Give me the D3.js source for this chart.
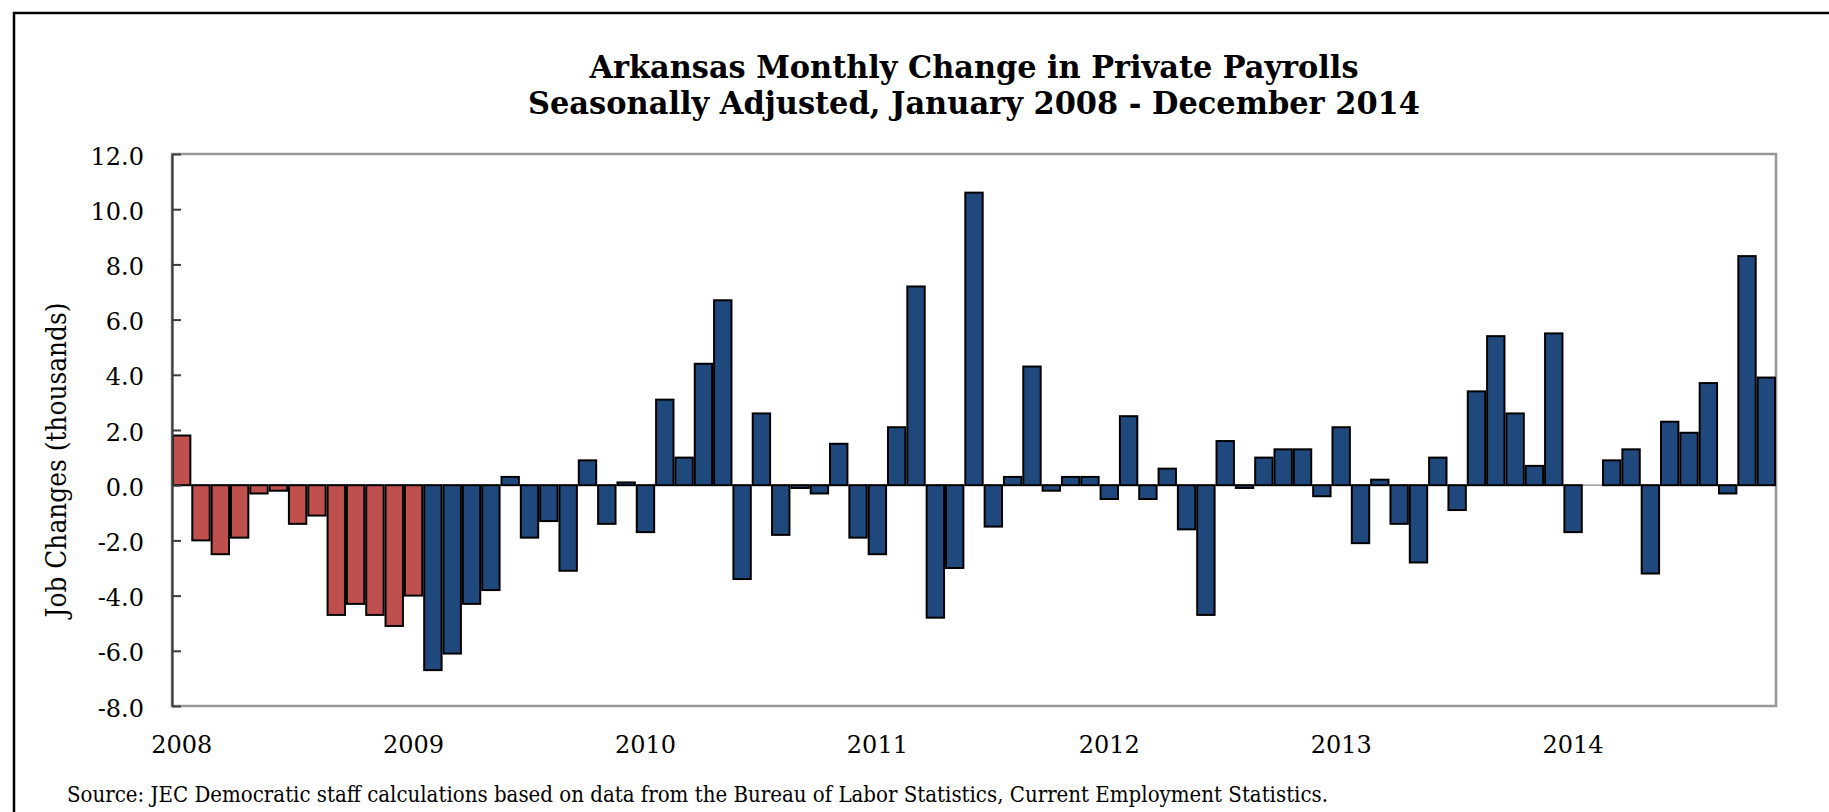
<!DOCTYPE html>
<html>
<head>
<meta charset="utf-8">
<script src="https://cdn.jsdelivr.net/npm/d3@7/dist/d3.min.js"></script>
<style>
    body { margin: 0; background: #fff; }
    svg { display: block; }
    text { font-family: "DejaVu Serif", serif; fill: #000; }
</style>
</head>
<body>
<svg id="chart" width="1829" height="812"></svg>
<script>
// monthly change in private payrolls, thousands (2014 data ends in November)
var years = [2008, 2009, 2010, 2011, 2012, 2013, 2014];
var change2008 = [1.8, -2.0, -2.5, -1.9, -0.3, -0.2, -1.4, -1.1, -4.7, -4.3, -4.7, -5.1];
var change2009 = [-4.0, -6.7, -6.1, -4.3, -3.8, 0.3, -1.9, -1.3, -3.1, 0.9, -1.4, 0.1];
var change2010 = [-1.7, 3.1, 1.0, 4.4, 6.7, -3.4, 2.6, -1.8, -0.1, -0.3, 1.5, -1.9];
var change2011 = [-2.5, 2.1, 7.2, -4.8, -3.0, 10.6, -1.5, 0.3, 4.3, -0.2, 0.3, 0.3];
var change2012 = [-0.5, 2.5, -0.5, 0.6, -1.6, -4.7, 1.6, -0.1, 1.0, 1.3, 1.3, -0.4];
var change2013 = [2.1, -2.1, 0.2, -1.4, -2.8, 1.0, -0.9, 3.4, 5.4, 2.6, 0.7, 5.5];
var change2014 = [-1.7, 0.0, 0.9, 1.3, -3.2, 2.3, 1.9, 3.7, -0.3, 8.3, 3.9];
var yTicks = [-8, -6, -4, -2, 0, 2, 4, 6, 8, 10, 12];
// bars up to and including this month are drawn red
var lastRedMonth = '2009-01';

var titleLines = [
    'Arkansas Monthly Change in Private Payrolls',
    'Seasonally Adjusted, January 2008 - December 2014'
];
var yLabel = 'Job Changes (thousands)';
var sourceText = 'Source: JEC Democratic staff  calculations based on data from the Bureau of Labor Statistics, Current Employment Statistics.';

(function () {
    var byYear = [change2008, change2009, change2010, change2011, change2012, change2013, change2014];
    var data = [];
    years.forEach(function (year, i) {
        byYear[i].forEach(function (v, m) {
            data.push({ key: year + '-' + String(m + 1).padStart(2, '0'), value: v });
        });
    });

    var svg = d3.select('#chart');
    var left = 172, right = 1776, top = 154, bottom = 706;

    var x = d3.scaleBand()
        .domain(data.map(function (d) { return d.key; }))
        .range([left, right])
        .paddingInner(0.1)
        .paddingOuter(0.05);
    var y = d3.scaleLinear().domain([-8, 12]).range([bottom, top]);

    // outer border, only top and left edges are in the picture
    svg.append('rect')
        .attr('x', 14).attr('y', 13)
        .attr('width', 2000).attr('height', 1000)
        .attr('fill', 'none')
        .attr('stroke', '#000')
        .attr('stroke-width', 2.5);

    svg.append('rect')
        .attr('x', left).attr('y', top)
        .attr('width', right - left).attr('height', bottom - top)
        .attr('fill', '#fff')
        .attr('stroke', '#989898')
        .attr('stroke-width', 2.5);

    svg.append('line')
        .attr('x1', left).attr('x2', right)
        .attr('y1', y(0)).attr('y2', y(0))
        .attr('stroke', '#8c8c8c')
        .attr('stroke-width', 1.2);

    svg.append('g')
        .selectAll('rect')
        .data(data.filter(function (d) { return d.value !== 0; }))
        .enter()
        .append('rect')
        .attr('x', function (d) { return x(d.key); })
        .attr('y', function (d) { return Math.min(y(d.value), y(0)); })
        .attr('width', x.bandwidth())
        .attr('height', function (d) { return Math.abs(y(d.value) - y(0)); })
        .attr('fill', function (d) { return d.key <= lastRedMonth ? '#C0504D' : '#1F497D'; })
        .attr('stroke', '#000')
        .attr('stroke-width', 2);

    var yAxis = svg.append('g')
        .attr('transform', 'translate(' + left + ',0)')
        .call(d3.axisLeft(y)
            .tickValues(yTicks)
            .tickSizeInner(-9)
            .tickSizeOuter(0)
            .tickPadding(28)
            .tickFormat(function (d) { return d.toFixed(1); }));
    yAxis.select('.domain').attr('stroke', '#3c3c3c').attr('stroke-width', 2.2);
    yAxis.selectAll('.tick line').attr('stroke', '#3c3c3c').attr('stroke-width', 2);
    yAxis.selectAll('.tick text')
        .attr('dy', '0.42em')
        .style('font-size', '24px')
        .style('font-family', '"DejaVu Serif", serif');

    var januaries = data.filter(function (d) { return d.key.slice(5) === '01'; }).map(function (d) { return d.key; });
    var xAxis = svg.append('g')
        .attr('transform', 'translate(0,' + bottom + ')')
        .call(d3.axisBottom(x)
            .tickValues(januaries)
            .tickSize(0)
            .tickFormat(function (k) { return k.slice(0, 4); }));
    xAxis.select('.domain').remove();
    xAxis.selectAll('.tick text')
        .attr('y', 47)
        .attr('dy', 0)
        .style('font-size', '24px')
        .style('font-family', '"DejaVu Serif", serif');

    var titleX = (left + right) / 2;
    var titleWidths = [769, 892];
    var titleBaselines = [78, 114];
    titleLines.forEach(function (t, i) {
        svg.append('text')
            .attr('x', titleX)
            .attr('y', titleBaselines[i])
            .attr('text-anchor', 'middle')
            .attr('textLength', titleWidths[i])
            .attr('lengthAdjust', 'spacingAndGlyphs')
            .style('font-size', '31px')
            .style('font-weight', 'bold')
            .text(t);
    });

    svg.append('text')
        .attr('transform', 'translate(66,460) rotate(-90)')
        .attr('text-anchor', 'middle')
        .attr('textLength', 315)
        .attr('lengthAdjust', 'spacingAndGlyphs')
        .style('font-size', '28px')
        .text(yLabel);

    svg.append('text')
        .attr('x', 67)
        .attr('y', 802)
        .attr('textLength', 1261)
        .attr('lengthAdjust', 'spacingAndGlyphs')
        .style('font-size', '23px')
        .text(sourceText);
})();
</script>
</body>
</html>
